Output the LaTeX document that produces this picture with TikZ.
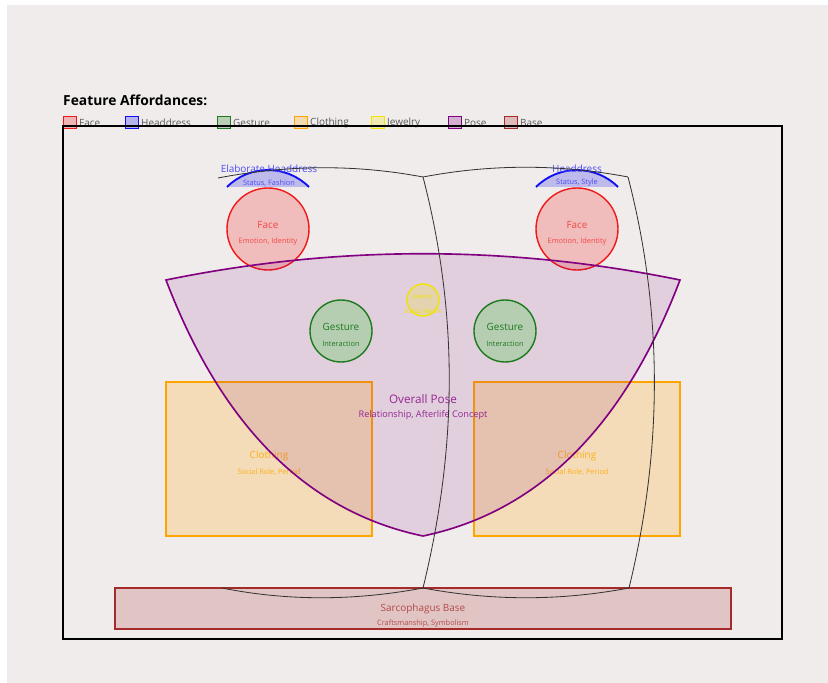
\documentclass[tikz,border=0pt]{standalone}
\usepackage{fontspec}
\setmainfont{Open Sans}
\usetikzlibrary{positioning}
\definecolor{Bg}{HTML}{F0ECEB}
\definecolor{FaceRed}{HTML}{F01818}
\definecolor{HeadBlue}{HTML}{1010F0}
\definecolor{GestGreen}{HTML}{1E7A1E}
\definecolor{GestFill}{HTML}{32CD32}
\definecolor{ClothOrange}{HTML}{FFA500}
\definecolor{JewelYellow}{HTML}{F0E400}
\definecolor{PosePurple}{HTML}{800080}
\definecolor{BaseBrown}{HTML}{A52A2A}
\definecolor{LidGray}{HTML}{333333}
\tikzset{
  mainlbl/.style={inner sep=0pt, font=\fontsize{8.5}{10}\selectfont},
  sublbl/.style={inner sep=0pt, font=\fontsize{6.3}{7}\selectfont},
  lid/.style={LidGray, line width=0.7pt},
}

\begin{document}
\begin{tikzpicture}[x=0.03cm, y=-0.03cm]
        \fill[white] (0,0) rectangle (828,683);
        \fill[Bg] (7,5) rectangle (828,683);
        \useasboundingbox (0,0) rectangle (828,683);

        % title and legend
        \node[anchor=west, inner sep=0pt, font=\bfseries\fontsize{11.8}{13}\selectfont] (title) at (63,100) {Feature Affordances:};
        \foreach \x/\c/\t in {63/FaceRed/Face,125/HeadBlue/Headdress,217/GestGreen/Gesture,294/ClothOrange/Clothing,371/JewelYellow/Jewelry,448/PosePurple/Pose,504/BaseBrown/Base} {
          \draw[draw=\c, fill=\c, fill opacity=0.25, line width=0.8pt] (\x,116) rectangle ++(13,12);
          \node[mainlbl, anchor=west, text=black!65] (leg\t) at (\x+16,122.5) {\t};
        }
        \draw[black, line width=1.5pt] (63,126) rectangle (782,639);

        % base
        \draw[BaseBrown, fill=BaseBrown, fill opacity=0.2, line width=1.1pt] (115,588) rectangle (731,629);
        \node[mainlbl, text=BaseBrown!85] (baseT) at (423,609) {Sarcophagus Base};
        \node[sublbl, text=BaseBrown!85] (baseS) at (423,624) {Craftsmanship, Symbolism};

        % clothing
        \foreach \x/\n in {166/L,474/R} {
          \draw[ClothOrange, fill=ClothOrange, fill opacity=0.22, line width=1.2pt] (\x,382) rectangle ++(206,154);
          \node[mainlbl, text=ClothOrange!90] (cloth\n) at (\x+103,456) {Clothing};
          \node[sublbl, text=ClothOrange!90] (cloth\n sub) at (\x+103,472) {Social Role, Period};
        }

        % faces and headdresses
        \foreach \x/\n in {268/L,577/R} {
          \draw[FaceRed, fill=FaceRed, fill opacity=0.22, line width=1.2pt] (\x,229) circle (41);
          \node[mainlbl, text=FaceRed!80] (face\n) at (\x,225) {Face};
          \node[sublbl, text=FaceRed!80] (face\n sub) at (\x,242) {Emotion, Identity};
          \fill[HeadBlue, opacity=0.22] (\x-41,187) .. controls (\x-18.4,164.4) and (\x+18.4,164.4) .. (\x+41,187) -- cycle;
          \draw[HeadBlue, line width=1.6pt] (\x-41,187) .. controls (\x-18.4,164.4) and (\x+18.4,164.4) .. (\x+41,187);
        }
        \node[mainlbl, text=HeadBlue!75] (headL) at (269,169) {Elaborate Headdress};
        \node[sublbl, text=HeadBlue!75] (headLsub) at (269,183) {Status, Fashion};
        \node[mainlbl, text=HeadBlue!75] (headR) at (577,169) {Headdress};
        \node[sublbl, text=HeadBlue!75] (headRsub) at (577,183) {Status, Style};

        % pose
        \draw[PosePurple, fill=PosePurple, fill opacity=0.12, line width=1.4pt]
          (166,280) .. controls (337,245) and (509,245) .. (680,280)
          .. controls (624,427) and (538,512) .. (423,536)
          .. controls (308,512) and (222,427) .. cycle;
        \node[inner sep=0pt, font=\fontsize{10}{12}\selectfont, text=PosePurple!85] (pose) at (423,399) {Overall Pose};
        \node[inner sep=0pt, font=\fontsize{7.8}{9}\selectfont, text=PosePurple!85] (posesub) at (423,415) {Relationship, Afterlife Concept};

        % gestures
        \foreach \x/\n in {341/L,505/R} {
          \draw[GestGreen, fill=GestFill, fill opacity=0.25, line width=1.2pt] (\x,331) circle (31);
          \node[mainlbl, text=GestGreen] (gest\n) at (\x,327) {Gesture};
          \node[sublbl, text=GestGreen] (gest\n sub) at (\x,344) {Interaction};
        }

        % jewelry
        \draw[JewelYellow, fill=JewelYellow, fill opacity=0.2, line width=1.2pt] (423,300) circle (16);
        \node[inner sep=0pt, font=\fontsize{5}{6}\selectfont, text=JewelYellow] (jewel) at (423,297) {Jewelry};
        \node[inner sep=0pt, font=\fontsize{5}{6}\selectfont, text=JewelYellow] (jewelsub) at (423,312) {Status, Wealth};

        % lids
        \draw[lid] (218,178) .. controls (286,165) and (354,164) .. (423,177);
        \draw[lid] (423,177) .. controls (491,164) and (560,164) .. (628,177);
        \draw[lid] (423,177) .. controls (458,312) and (458,445) .. (423,588);
        \draw[lid] (628,177) .. controls (663,312) and (663,449) .. (629,588);
        \draw[lid] (423,588) .. controls (354,601) and (287,601) .. (222,588);
        \draw[lid] (423,588) .. controls (492,601) and (560,601) .. (629,588);
      \end{tikzpicture}
\end{document}
